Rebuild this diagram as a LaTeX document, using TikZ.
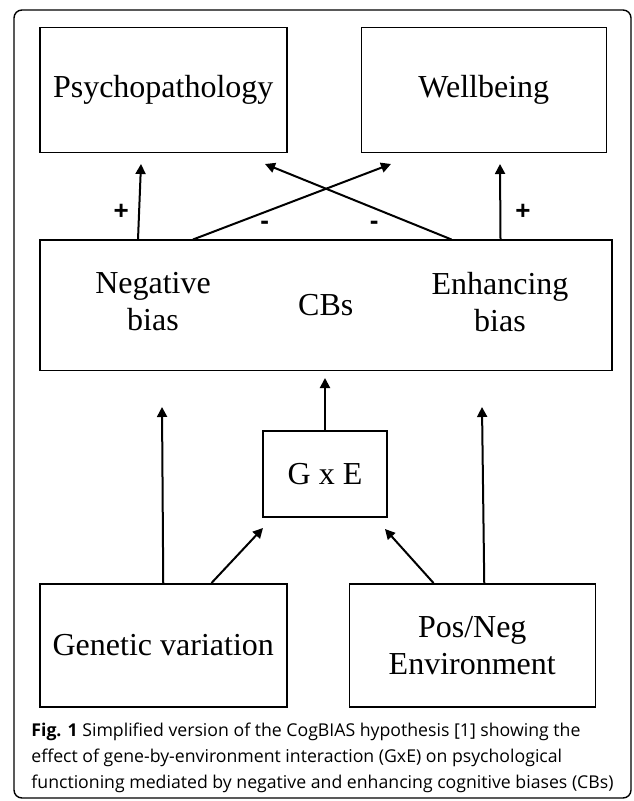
\documentclass[tikz,border=0pt]{standalone}
\usepackage{fontspec}
\setmainfont{Liberation Serif}
\newfontfamily\legendafont{Open Sans}
\newfontfamily\sinalfont{Liberation Sans}
\usepackage{tikz}
\usetikzlibrary{arrows.meta}
\usetikzlibrary{positioning}
\newcommand{\serifa}{\fontsize{16}{18.5}\selectfont}
\tikzset{
  caixa/.style={draw, line width=0.75pt, align=center, text centered, minimum width=#1, minimum height=62.5pt, inner sep=0pt, font=\serifa},
  caixa/.default=123.5pt,
  rotulo/.style={align=center, inner sep=0pt, font=\serifa},
  seta/.style={-{Triangle[length=5pt, width=5pt]}, line width=1pt},
  sinal/.style={inner sep=0pt, font=\sinalfont\bfseries\fontsize{13}{15}\selectfont},
  legenda/.style={align=left, inner sep=0pt, font=\legendafont\fontsize{8.84}{13}\selectfont},
}

\begin{document}
\begin{tikzpicture}[x=0.5pt, y=-0.5pt]
  \useasboundingbox (0,0) rectangle (633,801);
  \draw[rounded corners=4pt, line width=0.7pt] (14,10) rectangle (631,798);

  % outcomes
  \node[caixa, anchor=north west] (psico) at (39,27) {Psychopathology};
  \node[caixa=122.5pt, right=36.5pt of psico] (bem) {Wellbeing};

  % cognitive biases
  \node[caixa=286pt, minimum height=65pt, below=43pt of psico.south west, anchor=north west] (cbs) {CBs};
  \node[rotulo] (neg) at (153,302) {Negative\\bias};
  \node[rotulo] (enh) at (500,302) {Enhancing\\bias};

  % G x E and sources
  \node[caixa=62pt, minimum height=43pt] (gxe) at (325,474) {G x E};
  \node[caixa, minimum height=61.5pt, below=106pt of cbs.south west, anchor=north west] (gen) {Genetic variation};
  \node[caixa=123pt, minimum height=61.5pt, right=30.5pt of gen] (amb) {Pos/Neg\\Environment};

  \coordinate (pPsi) at (141,164);
  \coordinate (pBem) at (500,164);
  \coordinate (pX1) at (391,164);
  \coordinate (pX2) at (265,164);
  \coordinate (pCB) at (325,378);
  \coordinate (pGen) at (162,407);
  \coordinate (pAmb) at (482,407);
  \coordinate (pG1) at (263,528);
  \coordinate (pG2) at (385,529);

  \draw[seta] ([xshift=49.5pt]cbs.north west) -- node[sinal, pos=0.365, left=4.7pt]{+} (pPsi);
  \draw[seta] ([xshift=-56pt]cbs.north east) -- node[sinal, pos=0.365, right=7pt]{+} (pBem);
  \draw[seta] ([xshift=77pt]cbs.north west) -- node[sinal, pos=0.216, right=11.8pt, yshift=-1.2pt]{-} (pX1);
  \draw[seta] ([xshift=-80.5pt]cbs.north east) -- node[sinal, pos=0.216, left=15.8pt, yshift=-1.2pt]{-} (pX2);

  \draw[seta] (gxe.north) -- (pCB);
  \draw[seta] (gen.north) -- (pGen);
  \draw[seta] ([xshift=6pt]amb.north) -- (pAmb);
  \draw[seta] ([xshift=-38pt]gen.north east) -- (pG1);
  \draw[seta] ([xshift=42.5pt]amb.north west) -- (pG2);

  % caption
  \node[legenda, anchor=north west] (leg) at (31,723) {\textbf{Fig. 1} Simplified version of the CogBIAS hypothesis [1] showing the\\
    effect of gene-by-environment interaction (GxE) on psychological\\
    functioning mediated by negative and enhancing cognitive biases (CBs)};
\end{tikzpicture}
\end{document}
